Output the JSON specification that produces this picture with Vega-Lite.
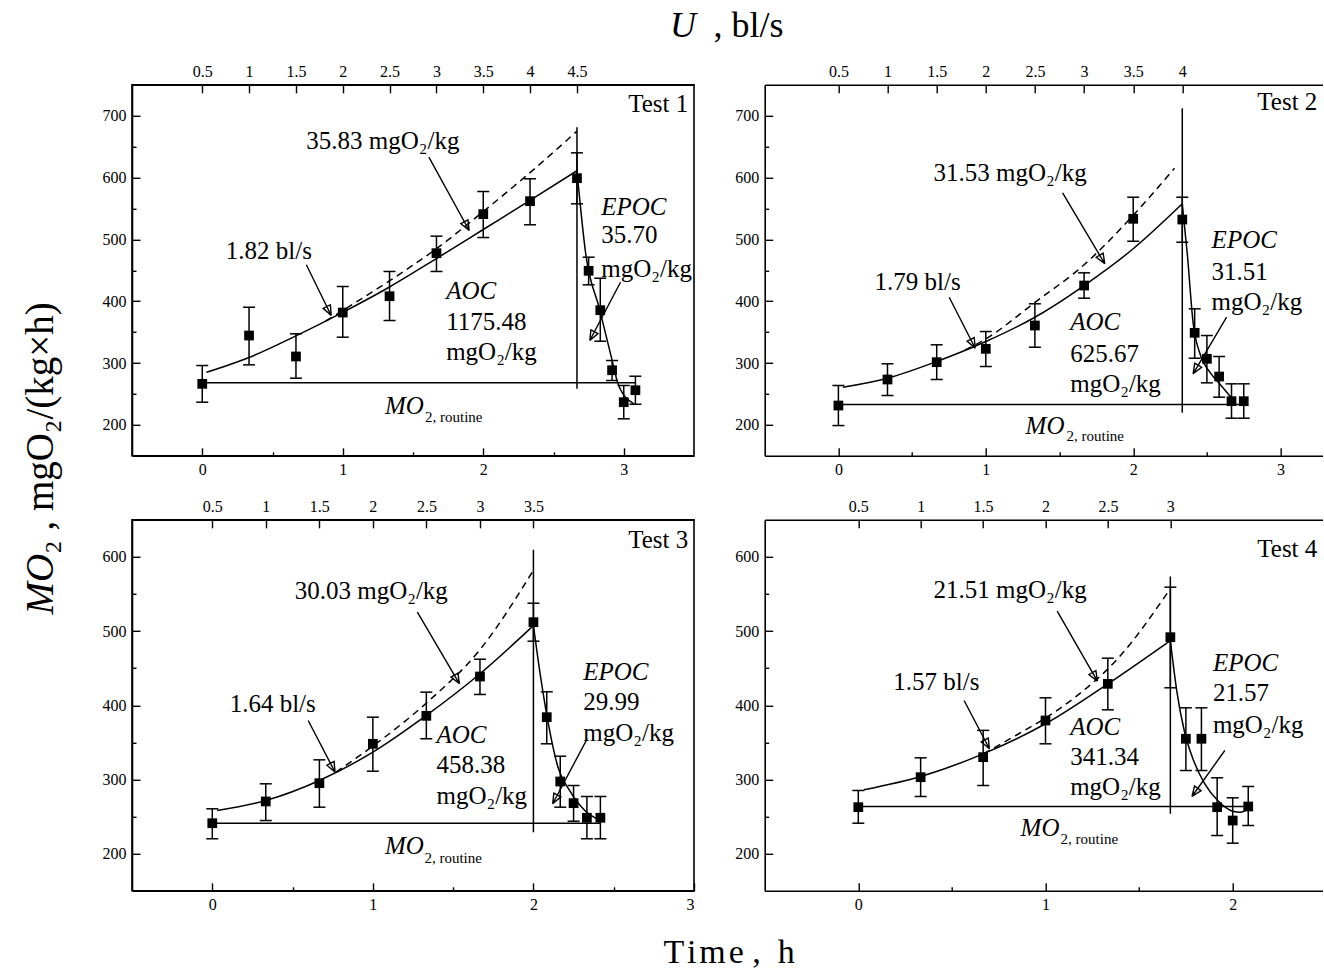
{
"$schema": "https://vega.github.io/schema/vega-lite/v6.json",
"background": "white",
"padding": {"left": 20, "top": 5.8, "right": 0, "bottom": 0},
"config": {
  "view": {"stroke": null},
  "axis": {"grid": false, "labelFont": "Liberation Serif", "labelFontSize": 16, "labelColor": "#000", "tickColor": "#000", "domainColor": "#000", "domainWidth": 1.6, "tickWidth": 1.4, "tickSize": -7}
},
"datasets": {
  "p1_pts": [
    {"t":0,"v":266.4,"lo":236.7,"hi":296},
    {"t":0.333,"v":344.5,"lo":297.1,"hi":390.3},
    {"t":0.667,"v":310.6,"lo":275.5,"hi":347.3},
    {"t":1,"v":381.7,"lo":341.8,"hi":423.8},
    {"t":1.333,"v":408.1,"lo":368.8,"hi":448.1},
    {"t":1.667,"v":477.7,"lo":448.1,"hi":505.2},
    {"t":2,"v":540.8,"lo":503,"hi":577.4},
    {"t":2.333,"v":561.8,"lo":523.6,"hi":598},
    {"t":2.667,"v":599,"lo":557.5,"hi":640},
    {"t":2.75,"v":449.2,"lo":426.5,"hi":471.2},
    {"t":2.833,"v":385.5,"lo":335.3,"hi":437.2},
    {"t":2.917,"v":288.4,"lo":271.8,"hi":304.1},
    {"t":3,"v":236.7,"lo":209.8,"hi":263.7},
    {"t":3.083,"v":256.1,"lo":233.4,"hi":278.7}
  ],
  "p1_fit": [{"t":0.03,"v":285},{"t":0.333,"v":309},{"t":0.667,"v":344},{"t":1,"v":382},{"t":1.333,"v":423},{"t":1.667,"v":469},{"t":2,"v":516},{"t":2.333,"v":563},{"t":2.667,"v":611}],
  "p1_dash": [{"t":0.88,"v":368},{"t":1,"v":385},{"t":1.333,"v":433},{"t":1.667,"v":485},{"t":2,"v":545},{"t":2.333,"v":608},{"t":2.667,"v":675}],
  "p1_rec": [{"t":2.667,"v":611},{"t":2.731,"v":474},{"t":2.827,"v":388},{"t":2.909,"v":312},{"t":2.963,"v":264},{"t":3.072,"v":234}],
  "p1_rules": [{"t":0,"t2":3.08,"v":268,"v2":268},{"t":2.667,"t2":2.667,"v":258.3,"v2":681.4}],
  "p1_arrows": [
    {"id":"a","seq":0,"t":1.613,"v":632.9},{"id":"a","seq":1,"t":1.9,"v":514.4},{"id":"a","seq":2,"t":1.8408,"v":525.4},{"id":"a","seq":3,"t":1.8907,"v":531.6},{"id":"a","seq":4,"t":1.9,"v":514.4},
    {"id":"b","seq":0,"t":0.7409,"v":458.9},{"id":"b","seq":1,"t":0.9178,"v":376.9},{"id":"b","seq":2,"t":0.8609,"v":388.5},{"id":"b","seq":3,"t":0.912,"v":394.3},{"id":"b","seq":4,"t":0.9178,"v":376.9},
    {"id":"c","seq":0,"t":2.9769,"v":430.7},{"id":"c","seq":1,"t":2.7584,"v":336.4},{"id":"c","seq":2,"t":2.7664,"v":353.8},{"id":"c","seq":3,"t":2.8167,"v":347.7},{"id":"c","seq":4,"t":2.7584,"v":336.4}
  ],
  "p1_txt": [
    {"t":3.032,"v":719.3,"label":"Test 1"},
    {"t":0.741,"v":659.9,"label":"35.83 mgO₂/kg"},
    {"t":0.168,"v":482,"label":"1.82 bl/s"},
    {"t":1.736,"v":366.1,"label":"1175.48"},
    {"t":1.736,"v":317.5,"label":"mgO₂/kg"},
    {"t":2.84,"v":506.3,"label":"35.70"},
    {"t":2.84,"v":452.4,"label":"mgO₂/kg"}
  ],
  "p1_ital": [{"t":1.736,"v":417.3,"label":"AOC"},{"t":2.84,"v":552,"label":"EPOC"},{"t":1.3,"v":231.3,"label":"MO"}],
  "p1_small": [{"t":1.586,"v":212.4,"label":"2, routine"}],
  "p1_u": [{"U":0.5},{"U":1},{"U":1.5},{"U":2},{"U":2.5},{"U":3},{"U":3.5},{"U":4},{"U":4.5}],
  "g_ui": [{"t":3.33,"v":845.9,"label":"U"}],
  "g_u": [{"t":3.639,"v":845.9,"label":", bl/s"}],
  "g_yi": [{"t":-1.1512,"v":-106.7,"label":"MO"}],
  "g_y": [{"t":-1.1512,"v":-8.7,"label":"₂ , mgO₂/(kg×h)"}],
  "g_x": [{"t":2.81,"v":66.8,"label":"T\u200Ai\u200Am\u200Ae ,\u2002h"}],

  "p2_pts": [
    {"t":0,"v":231.3,"lo":198.9,"hi":263.7},
    {"t":0.333,"v":273.4,"lo":247.5,"hi":298.8},
    {"t":0.667,"v":301.4,"lo":273.4,"hi":329.5},
    {"t":1,"v":323,"lo":294.4,"hi":351},
    {"t":1.333,"v":360.7,"lo":325.6,"hi":395.8},
    {"t":1.667,"v":425.4,"lo":404.9,"hi":445.9},
    {"t":2,"v":533.3,"lo":497,"hi":568.2},
    {"t":2.333,"v":532.1,"lo":495.4,"hi":568.2},
    {"t":2.417,"v":348.9,"lo":307.8,"hi":387.7},
    {"t":2.5,"v":306.9,"lo":268,"hi":344.5},
    {"t":2.583,"v":278.2,"lo":244.8,"hi":310.6},
    {"t":2.667,"v":238.3,"lo":210.8,"hi":266.4},
    {"t":2.75,"v":238.3,"lo":210.8,"hi":266.4}
  ],
  "p2_fit": [{"t":0.03,"v":260.9},{"t":0.333,"v":275.5},{"t":0.667,"v":302.5},{"t":1,"v":334.8},{"t":1.333,"v":374.1},{"t":1.667,"v":425.4},{"t":2,"v":484.8},{"t":2.333,"v":557.5}],
  "p2_dash": [{"t":0.86,"v":321},{"t":1,"v":339},{"t":1.333,"v":398},{"t":1.667,"v":459},{"t":2,"v":539},{"t":2.28,"v":615}],
  "p2_rec": [{"t":2.333,"v":557.5},{"t":2.368,"v":473.9},{"t":2.406,"v":366.1},{"t":2.457,"v":312.2},{"t":2.52,"v":285.2},{"t":2.596,"v":263.7},{"t":2.672,"v":242.2}],
  "p2_rules": [{"t":0,"t2":2.75,"v":232.9,"v2":232.9},{"t":2.333,"t2":2.333,"v":219.5,"v2":712.2}],
  "p2_arrows": [
    {"id":"a","seq":0,"t":1.521,"v":575.3},{"id":"a","seq":1,"t":1.8073,"v":460.5},{"id":"a","seq":2,"t":1.7493,"v":471.1},{"id":"a","seq":3,"t":1.796,"v":477.7},{"id":"a","seq":4,"t":1.8073,"v":460.5},
    {"id":"b","seq":0,"t":0.7517,"v":406.5},{"id":"b","seq":1,"t":0.9281,"v":324},{"id":"b","seq":2,"t":0.8731,"v":335.5},{"id":"b","seq":3,"t":0.9214,"v":341.3},{"id":"b","seq":4,"t":0.9281,"v":324},
    {"id":"c","seq":0,"t":2.6336,"v":374.1},{"id":"c","seq":1,"t":2.4064,"v":282.6},{"id":"c","seq":2,"t":2.4176,"v":299.8},{"id":"c","seq":3,"t":2.4642,"v":293.2},{"id":"c","seq":4,"t":2.4064,"v":282.6}
  ],
  "p2_txt": [
    {"t":2.842,"v":721.4,"label":"Test 2"},
    {"t":0.646,"v":607.4,"label":"31.53 mgO₂/kg"},
    {"t":0.2456,"v":430.7,"label":"1.79 bl/s"},
    {"t":1.5726,"v":314.9,"label":"625.67"},
    {"t":1.5726,"v":266.4,"label":"mgO₂/kg"},
    {"t":2.532,"v":448,"label":"31.51"},
    {"t":2.532,"v":398.4,"label":"mgO₂/kg"}
  ],
  "p2_ital": [{"t":1.5726,"v":366,"label":"AOC"},{"t":2.532,"v":498.2,"label":"EPOC"},{"t":1.27,"v":199,"label":"MO"}],
  "p2_small": [{"t":1.548,"v":182.8,"label":"2, routine"}],
  "p2_u": [{"U":0.5},{"U":1},{"U":1.5},{"U":2},{"U":2.5},{"U":3},{"U":3.5},{"U":4}],

  "p3_pts": [
    {"t":0,"v":241.1,"lo":220.1,"hi":260.5},
    {"t":0.333,"v":270.4,"lo":244.7,"hi":294.2},
    {"t":0.667,"v":295,"lo":262.7,"hi":326.5},
    {"t":1,"v":348.1,"lo":311.2,"hi":384},
    {"t":1.333,"v":385.8,"lo":354.9,"hi":417.7},
    {"t":1.667,"v":438.8,"lo":414.6,"hi":462.1},
    {"t":2,"v":512,"lo":486.4,"hi":537.6},
    {"t":2.083,"v":384,"lo":348.1,"hi":418.2},
    {"t":2.167,"v":297.3,"lo":262.7,"hi":331.4},
    {"t":2.25,"v":268.1,"lo":243.8,"hi":291.9},
    {"t":2.333,"v":248.4,"lo":220.1,"hi":277.1},
    {"t":2.417,"v":248.4,"lo":220.1,"hi":277.1}
  ],
  "p3_fit": [{"t":0.03,"v":258.2},{"t":0.333,"v":271.7},{"t":0.667,"v":298.7},{"t":1,"v":336.8},{"t":1.333,"v":386.3},{"t":1.667,"v":442.5},{"t":2,"v":507.5}],
  "p3_dash": [{"t":0.77,"v":310},{"t":1,"v":345},{"t":1.333,"v":403},{"t":1.667,"v":475},{"t":2,"v":582}],
  "p3_rec": [{"t":2,"v":507.5},{"t":2.045,"v":437.9},{"t":2.093,"v":375.1},{"t":2.153,"v":316.6},{"t":2.225,"v":285.2},{"t":2.32,"v":258.2},{"t":2.416,"v":244.7}],
  "p3_rules": [{"t":0,"t2":2.417,"v":241.1,"v2":241.1},{"t":2,"t2":2,"v":229,"v2":609.6}],
  "p3_arrows": [
    {"id":"a","seq":0,"t":1.2773,"v":525.5},{"id":"a","seq":1,"t":1.5395,"v":429},{"id":"a","seq":2,"t":1.4865,"v":437.9},{"id":"a","seq":3,"t":1.5294,"v":443.3},{"id":"a","seq":4,"t":1.5395,"v":429},
    {"id":"b","seq":0,"t":0.5973,"v":379.5},{"id":"b","seq":1,"t":0.7648,"v":309.8},{"id":"b","seq":2,"t":0.7139,"v":319.3},{"id":"b","seq":3,"t":0.7581,"v":324.3},{"id":"b","seq":4,"t":0.7648,"v":309.8},
    {"id":"c","seq":0,"t":2.3348,"v":354.9},{"id":"c","seq":1,"t":2.12,"v":267.3},{"id":"c","seq":2,"t":2.1272,"v":281.7},{"id":"c","seq":3,"t":2.1712,"v":276.6},{"id":"c","seq":4,"t":2.12,"v":267.3}
  ],
  "p3_txt": [
    {"t":2.59,"v":623,"label":"Test 3"},
    {"t":0.5138,"v":554.7,"label":"30.03 mgO₂/kg"},
    {"t":0.1084,"v":402,"label":"1.64 bl/s"},
    {"t":1.3963,"v":318.9,"label":"458.38"},
    {"t":1.3963,"v":278.4,"label":"mgO₂/kg"},
    {"t":2.3105,"v":404.2,"label":"29.99"},
    {"t":2.3105,"v":362.9,"label":"mgO₂/kg"}
  ],
  "p3_ital": [{"t":1.3963,"v":359.3,"label":"AOC"},{"t":2.3105,"v":444.6,"label":"EPOC"},{"t":1.0749,"v":209.7,"label":"MO"}],
  "p3_small": [{"t":1.3216,"v":194.5,"label":"2, routine"}],
  "p3_u": [{"U":0.5},{"U":1},{"U":1.5},{"U":2},{"U":2.5},{"U":3},{"U":3.5}],

  "p4_pts": [
    {"t":0,"v":262.7,"lo":241.1,"hi":285.2},
    {"t":0.333,"v":303.1,"lo":277.1,"hi":329.2},
    {"t":0.667,"v":330.1,"lo":291.9,"hi":366.2},
    {"t":1,"v":379.5,"lo":348.1,"hi":410.1},
    {"t":1.333,"v":428.9,"lo":393.9,"hi":463.5},
    {"t":1.667,"v":491.8,"lo":423.6,"hi":559.2},
    {"t":1.75,"v":354.9,"lo":312.1,"hi":396.6},
    {"t":1.833,"v":354.9,"lo":312.1,"hi":396.6},
    {"t":1.917,"v":262.7,"lo":224.5,"hi":302.3},
    {"t":2,"v":244.7,"lo":214.2,"hi":275.3},
    {"t":2.083,"v":263.6,"lo":238,"hi":290.6}
  ],
  "p4_fit": [{"t":0.03,"v":286.1},{"t":0.333,"v":304},{"t":0.667,"v":334.6},{"t":1,"v":375.1},{"t":1.333,"v":428.9},{"t":1.667,"v":487.3}],
  "p4_dash": [{"t":0.67,"v":334.8},{"t":0.846,"v":360},{"t":1,"v":383},{"t":1.164,"v":412},{"t":1.383,"v":462},{"t":1.661,"v":555}],
  "p4_rec": [{"t":1.667,"v":487.3},{"t":1.701,"v":419.9},{"t":1.741,"v":366},{"t":1.791,"v":325.6},{"t":1.851,"v":294.2},{"t":1.92,"v":271.7},{"t":2,"v":257.3},{"t":2.04,"v":255.9},{"t":2.083,"v":260.5}],
  "p4_rules": [{"t":0,"t2":2.083,"v":263.6,"v2":263.6},{"t":1.667,"t2":1.667,"v":253.8,"v2":573.6}],
  "p4_arrows": [
    {"id":"a","seq":0,"t":1.0625,"v":526.8},{"id":"a","seq":1,"t":1.2772,"v":432.5},{"id":"a","seq":2,"t":1.2321,"v":441.5},{"id":"a","seq":3,"t":1.2692,"v":446.8},{"id":"a","seq":4,"t":1.2772,"v":432.5},
    {"id":"b","seq":0,"t":0.5652,"v":406.5},{"id":"b","seq":1,"t":0.7003,"v":341.4},{"id":"b","seq":2,"t":0.6566,"v":350.8},{"id":"b","seq":3,"t":0.6944,"v":355.8},{"id":"b","seq":4,"t":0.7003,"v":341.4},
    {"id":"c","seq":0,"t":1.9578,"v":339.1},{"id":"c","seq":1,"t":1.7826,"v":277.1},{"id":"c","seq":2,"t":1.7962,"v":291.2},{"id":"c","seq":3,"t":1.831,"v":284.9},{"id":"c","seq":4,"t":1.7826,"v":277.1}
  ],
  "p4_txt": [
    {"t":2.1314,"v":610.9,"label":"Test 4"},
    {"t":0.4022,"v":555.7,"label":"21.51 mgO₂/kg"},
    {"t":0.187,"v":431.1,"label":"1.57 bl/s"},
    {"t":1.1319,"v":330.1,"label":"341.34"},
    {"t":1.1319,"v":289.6,"label":"mgO₂/kg"},
    {"t":1.8942,"v":416.3,"label":"21.57"},
    {"t":1.8942,"v":373.7,"label":"mgO₂/kg"}
  ],
  "p4_ital": [{"t":1.1319,"v":370.5,"label":"AOC"},{"t":1.8942,"v":456.7,"label":"EPOC"},{"t":0.867,"v":234.9,"label":"MO"}],
  "p4_small": [{"t":1.0807,"v":220.1,"label":"2, routine"}],
  "p4_u": [{"U":0.5},{"U":1},{"U":1.5},{"U":2},{"U":2.5},{"U":3}]
},
"columns": 2,
"spacing": {"row": 64, "column": 70.7},
"bounds": "flush",
"concat": [
{
  "width": 562, "height": 371,
  "view": {"stroke": "#000", "strokeWidth": 1.6},
  "resolve": {"scale": {"x": "independent"}, "axis": {"x": "independent"}},
  "layer": [
    {
      "encoding": {
        "x": {"field": "t", "type": "quantitative", "scale": {"domain": [-0.5, 3.5], "nice": false, "zero": false}, "axis": {"orient": "bottom", "values": [0,0.5,1,1.5,2,2.5,3], "labelExpr": "datum.value % 1 === 0 ? '' + datum.value : ''", "tickSize": {"condition": {"test": "datum.value % 1 !== 0", "value": -4}, "value": -8}, "labelPadding": 14, "title": null}},
        "y": {"field": "v", "type": "quantitative", "scale": {"domain": [150, 750], "nice": false, "zero": false}, "axis": {"orient": "left", "values": [200,250,300,350,400,450,500,550,600,650,700], "labelExpr": "datum.value % 100 === 0 ? '' + datum.value : ''", "tickSize": {"condition": {"test": "datum.value % 100 !== 0", "value": -4}, "value": -8}, "labelPadding": 14, "title": null}}
      },
      "layer": [
        {"data": {"name": "p1_pts"}, "mark": {"type": "rule", "color": "#000", "strokeWidth": 1.5}, "encoding": {"y": {"field": "lo", "type": "quantitative", "scale": {"domain": [150, 750], "nice": false, "zero": false}, "title": null}, "y2": {"field": "hi"}}},
        {"data": {"name": "p1_pts"}, "mark": {"type": "tick", "orient": "horizontal", "size": 12, "thickness": 1.5, "color": "#000", "opacity": 1}, "encoding": {"y": {"field": "lo", "type": "quantitative", "scale": {"domain": [150, 750], "nice": false, "zero": false}, "title": null}}},
        {"data": {"name": "p1_pts"}, "mark": {"type": "tick", "orient": "horizontal", "size": 12, "thickness": 1.5, "color": "#000", "opacity": 1}, "encoding": {"y": {"field": "hi", "type": "quantitative", "scale": {"domain": [150, 750], "nice": false, "zero": false}, "title": null}}},
        {"data": {"name": "p1_fit"}, "mark": {"type": "line", "color": "#000", "strokeWidth": 1.5, "interpolate": "monotone"}, "encoding": {}},
        {"data": {"name": "p1_rec"}, "mark": {"type": "line", "color": "#000", "strokeWidth": 1.5, "interpolate": "monotone"}, "encoding": {}},
        {"data": {"name": "p1_dash"}, "mark": {"type": "line", "color": "#000", "strokeWidth": 1.5, "strokeDash": [7, 5], "interpolate": "monotone"}, "encoding": {}},
        {"data": {"name": "p1_rules"}, "mark": {"type": "rule", "color": "#000", "strokeWidth": 1.5}, "encoding": {"x2": {"field": "t2"}, "y2": {"field": "v2"}}},
        {"data": {"name": "p1_arrows"}, "mark": {"type": "line", "color": "#000", "strokeWidth": 1.4}, "encoding": {"detail": {"field": "id"}, "order": {"field": "seq", "type": "quantitative"}}},
        {"data": {"name": "p1_pts"}, "mark": {"type": "square", "size": 95, "color": "#000", "filled": true, "opacity": 1}, "encoding": {}},
        {"data": {"name": "p1_txt"}, "mark": {"type": "text", "align": "left", "baseline": "middle", "font": "Liberation Serif", "fontSize": 25, "color": "#000"}, "encoding": {"text": {"field": "label"}}},
        {"data": {"name": "p1_ital"}, "mark": {"type": "text", "align": "left", "baseline": "middle", "font": "Liberation Serif", "fontStyle": "italic", "fontSize": 25, "color": "#000"}, "encoding": {"text": {"field": "label"}}},
        {"data": {"name": "p1_small"}, "mark": {"type": "text", "align": "left", "baseline": "middle", "font": "Liberation Serif", "fontSize": 15, "color": "#000"}, "encoding": {"text": {"field": "label"}}},
        {"data": {"name": "g_ui"}, "mark": {"type": "text", "align": "left", "baseline": "middle", "font": "Liberation Serif", "fontStyle": "italic", "fontSize": 36, "color": "#000"}, "encoding": {"text": {"field": "label"}}},
        {"data": {"name": "g_u"}, "mark": {"type": "text", "align": "left", "baseline": "middle", "font": "Liberation Serif", "fontSize": 36, "color": "#000"}, "encoding": {"text": {"field": "label"}}},
        {"data": {"name": "g_yi"}, "mark": {"type": "text", "align": "left", "baseline": "middle", "angle": 270, "font": "Liberation Serif", "fontStyle": "italic", "fontSize": 39, "color": "#000"}, "encoding": {"text": {"field": "label"}}},
        {"data": {"name": "g_y"}, "mark": {"type": "text", "align": "left", "baseline": "middle", "angle": 270, "font": "Liberation Serif", "fontSize": 39, "color": "#000"}, "encoding": {"text": {"field": "label"}}}
      ]
    },
    {"data": {"name": "p1_u"}, "mark": {"type": "point", "opacity": 0}, "encoding": {"x": {"field": "U", "type": "quantitative", "scale": {"domain": [-0.25, 5.75], "nice": false, "zero": false}, "axis": {"orient": "top", "values": [0.5,1,1.5,2,2.5,3,3.5,4,4.5], "labelExpr": "'' + datum.value", "tickSize": -8, "labelPadding": 13, "title": null}}}}
  ]
},
{
  "width": 558, "height": 371,
  "resolve": {"scale": {"x": "independent"}, "axis": {"x": "independent"}},
  "layer": [
    {
      "encoding": {
        "x": {"field": "t", "type": "quantitative", "scale": {"domain": [-0.5, 3.2856], "nice": false, "zero": false}, "axis": {"orient": "bottom", "values": [0,0.5,1,1.5,2,2.5,3], "labelExpr": "datum.value % 1 === 0 ? '' + datum.value : ''", "tickSize": {"condition": {"test": "datum.value % 1 !== 0", "value": -4}, "value": -8}, "labelPadding": 14, "title": null}},
        "y": {"field": "v", "type": "quantitative", "scale": {"domain": [150, 750], "nice": false, "zero": false}, "axis": {"orient": "left", "values": [200,250,300,350,400,450,500,550,600,650,700], "labelExpr": "datum.value % 100 === 0 ? '' + datum.value : ''", "tickSize": {"condition": {"test": "datum.value % 100 !== 0", "value": -4}, "value": -8}, "labelPadding": 14, "title": null}}
      },
      "layer": [
        {"data": {"name": "p2_pts"}, "mark": {"type": "rule", "color": "#000", "strokeWidth": 1.5}, "encoding": {"y": {"field": "lo", "type": "quantitative", "scale": {"domain": [150, 750], "nice": false, "zero": false}, "title": null}, "y2": {"field": "hi"}}},
        {"data": {"name": "p2_pts"}, "mark": {"type": "tick", "orient": "horizontal", "size": 12, "thickness": 1.5, "color": "#000", "opacity": 1}, "encoding": {"y": {"field": "lo", "type": "quantitative", "scale": {"domain": [150, 750], "nice": false, "zero": false}, "title": null}}},
        {"data": {"name": "p2_pts"}, "mark": {"type": "tick", "orient": "horizontal", "size": 12, "thickness": 1.5, "color": "#000", "opacity": 1}, "encoding": {"y": {"field": "hi", "type": "quantitative", "scale": {"domain": [150, 750], "nice": false, "zero": false}, "title": null}}},
        {"data": {"name": "p2_fit"}, "mark": {"type": "line", "color": "#000", "strokeWidth": 1.5, "interpolate": "monotone"}, "encoding": {}},
        {"data": {"name": "p2_rec"}, "mark": {"type": "line", "color": "#000", "strokeWidth": 1.5, "interpolate": "monotone"}, "encoding": {}},
        {"data": {"name": "p2_dash"}, "mark": {"type": "line", "color": "#000", "strokeWidth": 1.5, "strokeDash": [7, 5], "interpolate": "monotone"}, "encoding": {}},
        {"data": {"name": "p2_rules"}, "mark": {"type": "rule", "color": "#000", "strokeWidth": 1.5}, "encoding": {"x2": {"field": "t2"}, "y2": {"field": "v2"}}},
        {"data": {"name": "p2_arrows"}, "mark": {"type": "line", "color": "#000", "strokeWidth": 1.4}, "encoding": {"detail": {"field": "id"}, "order": {"field": "seq", "type": "quantitative"}}},
        {"data": {"name": "p2_pts"}, "mark": {"type": "square", "size": 95, "color": "#000", "filled": true, "opacity": 1}, "encoding": {}},
        {"data": {"name": "p2_txt"}, "mark": {"type": "text", "align": "left", "baseline": "middle", "font": "Liberation Serif", "fontSize": 25, "color": "#000"}, "encoding": {"text": {"field": "label"}}},
        {"data": {"name": "p2_ital"}, "mark": {"type": "text", "align": "left", "baseline": "middle", "font": "Liberation Serif", "fontStyle": "italic", "fontSize": 25, "color": "#000"}, "encoding": {"text": {"field": "label"}}},
        {"data": {"name": "p2_small"}, "mark": {"type": "text", "align": "left", "baseline": "middle", "font": "Liberation Serif", "fontSize": 15, "color": "#000"}, "encoding": {"text": {"field": "label"}}}
      ]
    },
    {"data": {"name": "p2_u"}, "mark": {"type": "point", "opacity": 0}, "encoding": {"x": {"field": "U", "type": "quantitative", "scale": {"domain": [-0.25, 5.4284], "nice": false, "zero": false}, "axis": {"orient": "top", "values": [0.5,1,1.5,2,2.5,3,3.5,4], "labelExpr": "'' + datum.value", "tickSize": -8, "labelPadding": 13, "title": null}}}}
  ]
},
{
  "width": 562, "height": 371,
  "view": {"stroke": "#000", "strokeWidth": 1.6},
  "resolve": {"scale": {"x": "independent"}, "axis": {"x": "independent"}},
  "layer": [
    {
      "encoding": {
        "x": {"field": "t", "type": "quantitative", "scale": {"domain": [-0.5, 3], "nice": false, "zero": false}, "axis": {"orient": "bottom", "values": [0,0.5,1,1.5,2,2.5,3], "labelExpr": "datum.value % 1 === 0 ? '' + datum.value : ''", "tickSize": {"condition": {"test": "datum.value % 1 !== 0", "value": -4}, "value": -8}, "labelPadding": 14, "title": null}},
        "y": {"field": "v", "type": "quantitative", "scale": {"domain": [150, 650], "nice": false, "zero": false}, "axis": {"orient": "left", "values": [200,250,300,350,400,450,500,550,600], "labelExpr": "datum.value % 100 === 0 ? '' + datum.value : ''", "tickSize": {"condition": {"test": "datum.value % 100 !== 0", "value": -4}, "value": -8}, "labelPadding": 14, "title": null}}
      },
      "layer": [
        {"data": {"name": "p3_pts"}, "mark": {"type": "rule", "color": "#000", "strokeWidth": 1.5}, "encoding": {"y": {"field": "lo", "type": "quantitative", "scale": {"domain": [150, 650], "nice": false, "zero": false}, "title": null}, "y2": {"field": "hi"}}},
        {"data": {"name": "p3_pts"}, "mark": {"type": "tick", "orient": "horizontal", "size": 12, "thickness": 1.5, "color": "#000", "opacity": 1}, "encoding": {"y": {"field": "lo", "type": "quantitative", "scale": {"domain": [150, 650], "nice": false, "zero": false}, "title": null}}},
        {"data": {"name": "p3_pts"}, "mark": {"type": "tick", "orient": "horizontal", "size": 12, "thickness": 1.5, "color": "#000", "opacity": 1}, "encoding": {"y": {"field": "hi", "type": "quantitative", "scale": {"domain": [150, 650], "nice": false, "zero": false}, "title": null}}},
        {"data": {"name": "p3_fit"}, "mark": {"type": "line", "color": "#000", "strokeWidth": 1.5, "interpolate": "monotone"}, "encoding": {}},
        {"data": {"name": "p3_rec"}, "mark": {"type": "line", "color": "#000", "strokeWidth": 1.5, "interpolate": "monotone"}, "encoding": {}},
        {"data": {"name": "p3_dash"}, "mark": {"type": "line", "color": "#000", "strokeWidth": 1.5, "strokeDash": [7, 5], "interpolate": "monotone"}, "encoding": {}},
        {"data": {"name": "p3_rules"}, "mark": {"type": "rule", "color": "#000", "strokeWidth": 1.5}, "encoding": {"x2": {"field": "t2"}, "y2": {"field": "v2"}}},
        {"data": {"name": "p3_arrows"}, "mark": {"type": "line", "color": "#000", "strokeWidth": 1.4}, "encoding": {"detail": {"field": "id"}, "order": {"field": "seq", "type": "quantitative"}}},
        {"data": {"name": "p3_pts"}, "mark": {"type": "square", "size": 95, "color": "#000", "filled": true, "opacity": 1}, "encoding": {}},
        {"data": {"name": "p3_txt"}, "mark": {"type": "text", "align": "left", "baseline": "middle", "font": "Liberation Serif", "fontSize": 25, "color": "#000"}, "encoding": {"text": {"field": "label"}}},
        {"data": {"name": "p3_ital"}, "mark": {"type": "text", "align": "left", "baseline": "middle", "font": "Liberation Serif", "fontStyle": "italic", "fontSize": 25, "color": "#000"}, "encoding": {"text": {"field": "label"}}},
        {"data": {"name": "p3_small"}, "mark": {"type": "text", "align": "left", "baseline": "middle", "font": "Liberation Serif", "fontSize": 15, "color": "#000"}, "encoding": {"text": {"field": "label"}}},
        {"data": {"name": "g_x"}, "mark": {"type": "text", "align": "left", "baseline": "middle", "font": "Liberation Serif", "fontSize": 34, "color": "#000"}, "encoding": {"text": {"field": "label"}}}
      ]
    },
    {"data": {"name": "p3_u"}, "mark": {"type": "point", "opacity": 0}, "encoding": {"x": {"field": "U", "type": "quantitative", "scale": {"domain": [-0.25, 5], "nice": false, "zero": false}, "axis": {"orient": "top", "values": [0.5,1,1.5,2,2.5,3,3.5], "labelExpr": "'' + datum.value", "tickSize": -8, "labelPadding": 13, "title": null}}}}
  ]
},
{
  "width": 558, "height": 371,
  "resolve": {"scale": {"x": "independent"}, "axis": {"x": "independent"}},
  "layer": [
    {
      "encoding": {
        "x": {"field": "t", "type": "quantitative", "scale": {"domain": [-0.5, 2.4808], "nice": false, "zero": false}, "axis": {"orient": "bottom", "values": [0,0.5,1,1.5,2], "labelExpr": "datum.value % 1 === 0 ? '' + datum.value : ''", "tickSize": {"condition": {"test": "datum.value % 1 !== 0", "value": -4}, "value": -8}, "labelPadding": 14, "title": null}},
        "y": {"field": "v", "type": "quantitative", "scale": {"domain": [150, 650], "nice": false, "zero": false}, "axis": {"orient": "left", "values": [200,250,300,350,400,450,500,550,600], "labelExpr": "datum.value % 100 === 0 ? '' + datum.value : ''", "tickSize": {"condition": {"test": "datum.value % 100 !== 0", "value": -4}, "value": -8}, "labelPadding": 14, "title": null}}
      },
      "layer": [
        {"data": {"name": "p4_pts"}, "mark": {"type": "rule", "color": "#000", "strokeWidth": 1.5}, "encoding": {"y": {"field": "lo", "type": "quantitative", "scale": {"domain": [150, 650], "nice": false, "zero": false}, "title": null}, "y2": {"field": "hi"}}},
        {"data": {"name": "p4_pts"}, "mark": {"type": "tick", "orient": "horizontal", "size": 12, "thickness": 1.5, "color": "#000", "opacity": 1}, "encoding": {"y": {"field": "lo", "type": "quantitative", "scale": {"domain": [150, 650], "nice": false, "zero": false}, "title": null}}},
        {"data": {"name": "p4_pts"}, "mark": {"type": "tick", "orient": "horizontal", "size": 12, "thickness": 1.5, "color": "#000", "opacity": 1}, "encoding": {"y": {"field": "hi", "type": "quantitative", "scale": {"domain": [150, 650], "nice": false, "zero": false}, "title": null}}},
        {"data": {"name": "p4_fit"}, "mark": {"type": "line", "color": "#000", "strokeWidth": 1.5, "interpolate": "monotone"}, "encoding": {}},
        {"data": {"name": "p4_rec"}, "mark": {"type": "line", "color": "#000", "strokeWidth": 1.5, "interpolate": "monotone"}, "encoding": {}},
        {"data": {"name": "p4_dash"}, "mark": {"type": "line", "color": "#000", "strokeWidth": 1.5, "strokeDash": [7, 5], "interpolate": "monotone"}, "encoding": {}},
        {"data": {"name": "p4_rules"}, "mark": {"type": "rule", "color": "#000", "strokeWidth": 1.5}, "encoding": {"x2": {"field": "t2"}, "y2": {"field": "v2"}}},
        {"data": {"name": "p4_arrows"}, "mark": {"type": "line", "color": "#000", "strokeWidth": 1.4}, "encoding": {"detail": {"field": "id"}, "order": {"field": "seq", "type": "quantitative"}}},
        {"data": {"name": "p4_pts"}, "mark": {"type": "square", "size": 95, "color": "#000", "filled": true, "opacity": 1}, "encoding": {}},
        {"data": {"name": "p4_txt"}, "mark": {"type": "text", "align": "left", "baseline": "middle", "font": "Liberation Serif", "fontSize": 25, "color": "#000"}, "encoding": {"text": {"field": "label"}}},
        {"data": {"name": "p4_ital"}, "mark": {"type": "text", "align": "left", "baseline": "middle", "font": "Liberation Serif", "fontStyle": "italic", "fontSize": 25, "color": "#000"}, "encoding": {"text": {"field": "label"}}},
        {"data": {"name": "p4_small"}, "mark": {"type": "text", "align": "left", "baseline": "middle", "font": "Liberation Serif", "fontSize": 15, "color": "#000"}, "encoding": {"text": {"field": "label"}}}
      ]
    },
    {"data": {"name": "p4_u"}, "mark": {"type": "point", "opacity": 0}, "encoding": {"x": {"field": "U", "type": "quantitative", "scale": {"domain": [-0.25, 4.2212], "nice": false, "zero": false}, "axis": {"orient": "top", "values": [0.5,1,1.5,2,2.5,3], "labelExpr": "'' + datum.value", "tickSize": -8, "labelPadding": 13, "title": null}}}}
  ]
}
]
}
